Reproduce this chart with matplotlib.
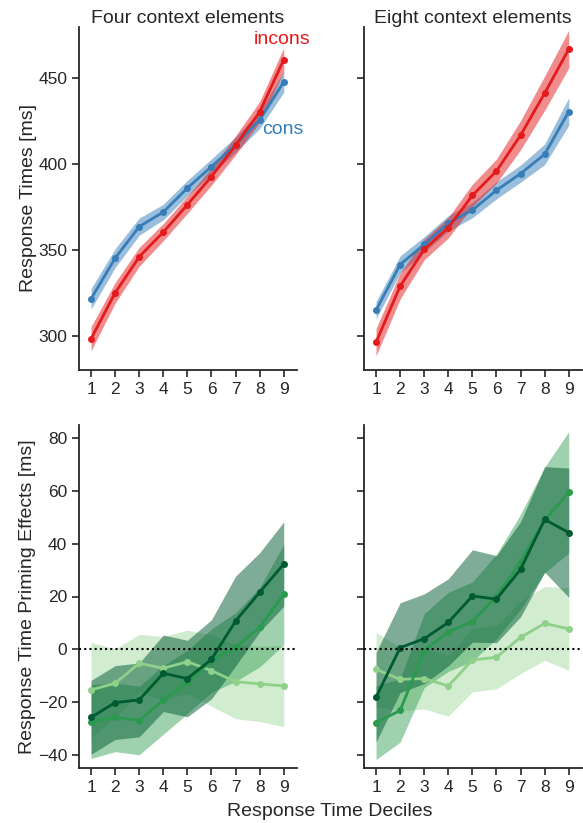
import numpy as np
import matplotlib
matplotlib.use("Agg")
import matplotlib.pyplot as plt

plt.rcParams['font.family'] = ['Liberation Sans', 'DejaVu Sans']
TXT = '#262626'
plt.rcParams['text.color'] = TXT
plt.rcParams['axes.labelcolor'] = TXT
plt.rcParams['xtick.color'] = TXT
plt.rcParams['ytick.color'] = TXT
plt.rcParams['axes.edgecolor'] = TXT

deciles = [1, 2, 3, 4, 5, 6, 7, 8, 9]

# Top: response times (ms)
four_incons = [298.2, 325.0, 346.0, 360.4, 376.4, 392.8, 411.0, 430.5, 460.9]
four_incons_ci = [7, 6, 5.5, 5, 5, 5, 5.5, 6, 7]
four_cons = [321.5, 345.2, 363.6, 372.1, 386.1, 398.6, 411.4, 425.8, 448.0]
four_cons_ci = [6, 5.5, 5, 4.5, 4.5, 4.5, 4.5, 5, 6]

eight_incons = [296.2, 328.9, 350.3, 363.0, 381.8, 396.0, 416.9, 441.4, 467.1]
eight_incons_ci = [8, 7.5, 6, 6, 6.5, 7, 8.5, 10, 11]
eight_cons = [314.9, 341.5, 353.2, 365.5, 373.3, 384.8, 394.5, 405.8, 430.7]
eight_cons_ci = [5, 5, 4.5, 4.5, 4.5, 5, 5, 6, 8]

# Bottom: priming effects (ms), three series per panel
four_dark = [-25.8, -20.2, -19.2, -9.1, -11.1, -3.8, 10.7, 21.6, 32.3]
four_dark_ci = [14, 14, 14, 14.5, 14.5, 15, 17, 15, 16]
four_mid = [-27.4, -25.8, -27.0, -19.2, -12.4, -4.3, 0.8, 8.3, 20.8]
four_mid_ci = [14, 13, 13, 13, 12, 12, 13, 15, 19]
four_light = [-15.4, -12.9, -5.3, -7.2, -4.7, -8.1, -12.3, -13.1, -13.9]
four_light_ci = [18, 13, 11, 12, 12, 13.5, 14, 14.3, 15.4]

eight_dark = [-18.2, 0.6, 4.0, 10.2, 20.2, 19.0, 30.3, 49.2, 44.2]
eight_dark_ci = [17, 17, 17, 16.5, 17.5, 16.5, 18, 20, 24.5]
eight_mid = [-27.8, -23.2, -0.5, 6.6, 10.5, 20.0, 33.2, 49.0, 59.5]
eight_mid_ci = [14, 12, 14, 15, 15, 16, 18, 20, 23]
eight_light = [-7.6, -11.4, -11.1, -13.9, -4.1, -3.0, 4.5, 9.8, 7.7]
eight_light_ci = [14, 12, 11.5, 11.5, 12, 12, 13.7, 14, 15.7]

RED = '#e41a1c'
BLUE = '#377eb8'
DARK = '#005a32'
MID = '#2a9a4e'
LIGHT = '#8fd18a'

W, H = 583, 823
fig = plt.figure(figsize=(W / 100, H / 100), dpi=100)

def rect(x0, y0, x1, y1):
    return [x0 / W, 1 - y1 / H, (x1 - x0) / W, (y1 - y0) / H]

ax_tl = fig.add_axes(rect(79, 27, 297, 370))
ax_tr = fig.add_axes(rect(364, 27, 582, 370))
ax_bl = fig.add_axes(rect(79, 425, 297, 768))
ax_br = fig.add_axes(rect(364, 425, 582, 768))

def band(ax, y, ci, color, alpha, lw=2, ms=4, z=2):
    y = np.asarray(y); ci = np.asarray(ci)
    ax.fill_between(deciles, y - ci, y + ci, color=color, alpha=alpha, lw=0, zorder=z)
    ax.plot(deciles, y, color=color, lw=lw, marker='o', ms=ms, zorder=z + 5)

for ax in (ax_tl, ax_tr, ax_bl, ax_br):
    ax.spines['top'].set_visible(False)
    ax.spines['right'].set_visible(False)
    ax.spines['left'].set_linewidth(1.3)
    ax.spines['bottom'].set_linewidth(1.3)
    ax.set_xlim(0.5, 9.55)
    ax.set_xticks(deciles)
    ax.tick_params(direction='out', length=5, width=1.2, labelsize=12.5)

band(ax_tl, four_cons, four_cons_ci, BLUE, 0.5)
band(ax_tl, four_incons, four_incons_ci, RED, 0.5)
band(ax_tr, eight_cons, eight_cons_ci, BLUE, 0.5)
band(ax_tr, eight_incons, eight_incons_ci, RED, 0.5)

for ax in (ax_tl, ax_tr):
    ax.set_ylim(280, 480)
    ax.set_yticks([300, 350, 400, 450])
ax_tr.set_yticklabels([])
ax_tl.set_ylabel('Response Times [ms]', fontsize=14, labelpad=1)
ax_tl.set_title('Four context elements', fontsize=14, pad=2)
ax_tr.set_title('Eight context elements', fontsize=14, pad=2)
ax_tl.text(8.95, 473, 'incons', color=RED, fontsize=14, ha='center', va='center')
ax_tl.text(8.95, 420, 'cons', color=BLUE, fontsize=14, ha='center', va='center')

band(ax_bl, four_light, four_light_ci, LIGHT, 0.4, z=1)
band(ax_bl, four_mid, four_mid_ci, MID, 0.45, z=2)
band(ax_bl, four_dark, four_dark_ci, DARK, 0.5, z=3)
band(ax_br, eight_light, eight_light_ci, LIGHT, 0.4, z=1)
band(ax_br, eight_mid, eight_mid_ci, MID, 0.45, z=2)
band(ax_br, eight_dark, eight_dark_ci, DARK, 0.5, z=3)

for ax in (ax_bl, ax_br):
    ax.set_ylim(-45, 85)
    ax.set_yticks([-40, -20, 0, 20, 40, 60, 80])
    ax.axhline(0, color='black', lw=1.5, ls=(0, (1, 1.5)), zorder=20, clip_on=False)
ax_br.set_yticklabels([])
ax_bl.set_ylabel('Response Time Priming Effects [ms]', fontsize=14, labelpad=1)

fig.text(330 / W, 1 - 812 / H, 'Response Time Deciles', fontsize=14, ha='center', va='center')

fig.savefig('out.png', dpi=100)
